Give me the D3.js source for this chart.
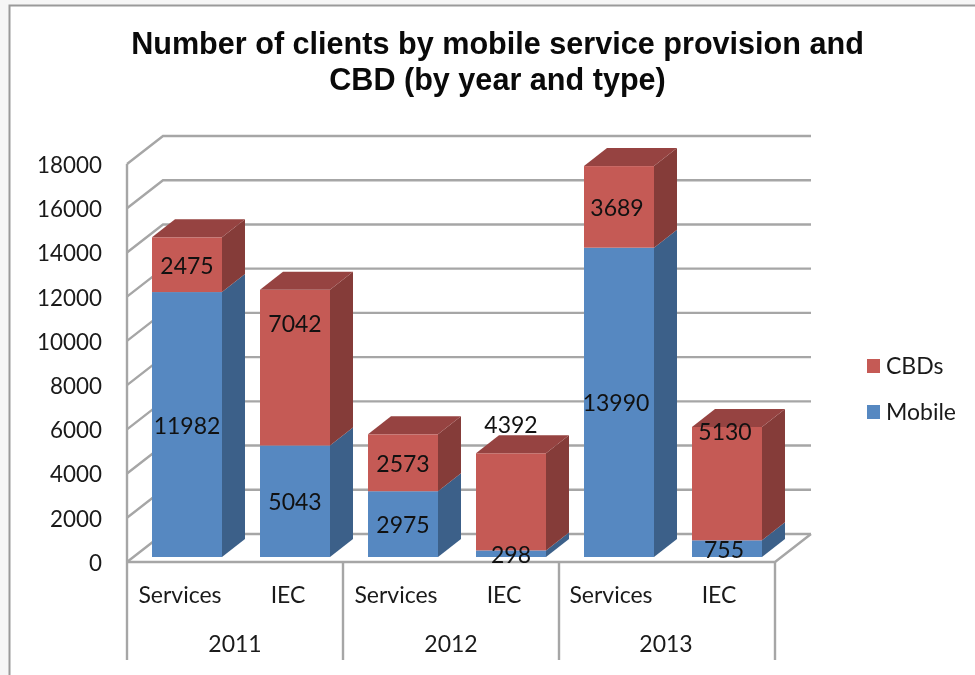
<!DOCTYPE html>
<html><head><meta charset="utf-8">
<script src="https://cdn.jsdelivr.net/npm/d3@7"></script>
<style>
html,body{margin:0;padding:0;background:#f6f6f6}
svg{display:block;filter:blur(0.35px)}
text{fill:#1a1a1a;font-family:Lato,sans-serif}
</style></head><body>
<svg id="c" width="975" height="675"></svg>
<script>
const titleLines = ["Number of clients by mobile service provision and", "CBD (by year and type)"];
const years = ["2011", "2012", "2013"];
const types = ["Services", "IEC", "Services", "IEC", "Services", "IEC"];
const mobile = [11982, 5043, 2975, 298, 13990, 755];
const cbds = [2475, 7042, 2573, 4392, 3689, 5130];
const yTicks = [0, 2000, 4000, 6000, 8000, 10000, 12000, 14000, 16000, 18000];
const seriesNames = ["Mobile", "CBDs"];

const svg = d3.select("#c");
const colors = {
  Mobile: {front: "#5688C1", side: "#3C6089", top: "#466E9C"},
  CBDs: {front: "#C55A55", side: "#853C39", top: "#964341"}
};
const grid = "#a6a6a6";

// frame
svg.append("rect").attr("x", 9.5).attr("y", 5.5).attr("width", 1000).attr("height", 700)
  .attr("fill", "#fff").attr("stroke", "#9a9a9a").attr("stroke-width", 2);

// title
svg.append("g").selectAll("text").data(titleLines).join("text")
  .attr("x", 497.5).attr("y", (d, i) => 54 + i * 36)
  .attr("text-anchor", "middle")
  .style("font-family", "'Liberation Sans',Arial,sans-serif")
  .style("font-weight", "bold").style("font-size", "30.6px").style("fill", "#0a0a0a")
  .text(d => d);

// scales
const y = d3.scaleLinear().domain([0, 18000]).range([562, 164]);
const x = d3.scaleBand().domain(d3.range(types.length)).range([127, 775]).paddingInner(38 / 108).paddingOuter(19 / 108);
const wall = {dx: 36, dy: -28};      // depth of the floor
const inset = {dx: 6, dy: -5};       // bar start inside the floor
const barDepth = {dx: 23, dy: -18};  // depth of a bar

// walls and gridlines
const g = svg.append("g").attr("fill", "none").attr("stroke", grid).attr("stroke-width", 2.4);
yTicks.forEach(t => {
  g.append("polyline").attr("points", [
    [127, y(t)], [127 + wall.dx, y(t) + wall.dy], [775 + wall.dx, y(t) + wall.dy]
  ].join(" "));
});
g.append("line").attr("x1", 127).attr("x2", 127).attr("y1", y(18000)).attr("y2", y(0));
g.append("polyline").attr("points", [[127, y(0)], [775, y(0)], [775 + wall.dx, y(0) + wall.dy]].join(" "));

// category separators
const seps = [0, 2, 4, 6].map(i => i === 6 ? 775 : 127 + i * x.step());
g.selectAll(".sep").data(seps).join("line").attr("class", "sep")
  .attr("x1", d => d).attr("x2", d => d).attr("y1", y(0)).attr("y2", 660);

// y axis
const yAxis = svg.append("g").attr("transform", "translate(102,1)")
  .call(d3.axisLeft(y).tickValues(yTicks).tickSize(0).tickPadding(0).tickFormat(d3.format("d")));
yAxis.select(".domain").remove();
yAxis.selectAll("text").style("font-family", "Lato,sans-serif").style("font-size", "22.4px").attr("dy", "0.33em");

// stacked bars
const rows = types.map((t, i) => ({i, Mobile: mobile[i], CBDs: cbds[i]}));
const stack = d3.stack().keys(seriesNames)(rows);
const labels = [];
rows.forEach((r, i) => {
  stack.forEach(s => {
    const [a, b] = s[i];
    const c = colors[s.key];
    const x0 = x(i) + inset.dx, x1 = x0 + x.bandwidth();
    const yb = y(a) + inset.dy, yt = y(b) + inset.dy;
    const bar = svg.append("g");
    bar.append("rect").attr("x", x0).attr("y", yt).attr("width", x1 - x0).attr("height", yb - yt).attr("fill", c.front);
    bar.append("polygon").attr("fill", c.side).attr("points", [
      [x1, yt], [x1 + barDepth.dx, yt + barDepth.dy], [x1 + barDepth.dx, yb + barDepth.dy], [x1, yb]
    ].join(" "));
    if (s.key === "CBDs") {
      bar.append("polygon").attr("fill", c.top).attr("points", [
        [x0, yt], [x0 + barDepth.dx, yt + barDepth.dy], [x1 + barDepth.dx, yt + barDepth.dy], [x1, yt]
      ].join(" "));
    }
    labels.push({key: s.key, i, v: b - a, x: (x0 + x1) / 2, y: (yb + yt) / 2});
  });
});

// data labels (some were moved by hand in the original chart)
const nudgeY = {"CBDs-1": -45, "CBDs-3": -78, "CBDs-5": -53};
const nudgeX = {"Mobile-4": -3, "CBDs-4": -2, "Mobile-5": -3, "CBDs-5": -2};
svg.append("g").selectAll("text").data(labels).join("text")
  .attr("x", d => d.x + (nudgeX[d.key + "-" + d.i] || 0)).attr("y", d => d.y + 1 + (nudgeY[d.key + "-" + d.i] || 0))
  .attr("dy", "0.35em").attr("text-anchor", "middle")
  .style("font-size", "23px").style("fill", "#111")
  .text(d => d.v);

// category labels
svg.append("g").selectAll("text").data(types).join("text")
  .attr("x", (d, i) => x(i) + x.bandwidth() / 2 - (i > 3 ? 2 : 1)).attr("y", 595).attr("dy", "0.35em")
  .attr("text-anchor", "middle").style("font-size", "23px").text(d => d);
svg.append("g").selectAll("text").data(years).join("text")
  .attr("x", (d, i) => (seps[i] + seps[i + 1]) / 2 - (i > 1 ? 1 : 0)).attr("y", 644).attr("dy", "0.35em")
  .attr("text-anchor", "middle").style("font-size", "23px").text(d => d);

// legend
const legend = svg.append("g").selectAll("g").data(["CBDs", "Mobile"]).join("g")
  .attr("transform", (d, i) => `translate(867,${359 + i * 46})`);
legend.append("rect").attr("width", 13).attr("height", 14).attr("fill", d => colors[d].front);
legend.append("text").attr("x", 19).attr("y", 7).attr("dy", "0.33em").style("font-size", "23px").text(d => d);
</script>
</body></html>
